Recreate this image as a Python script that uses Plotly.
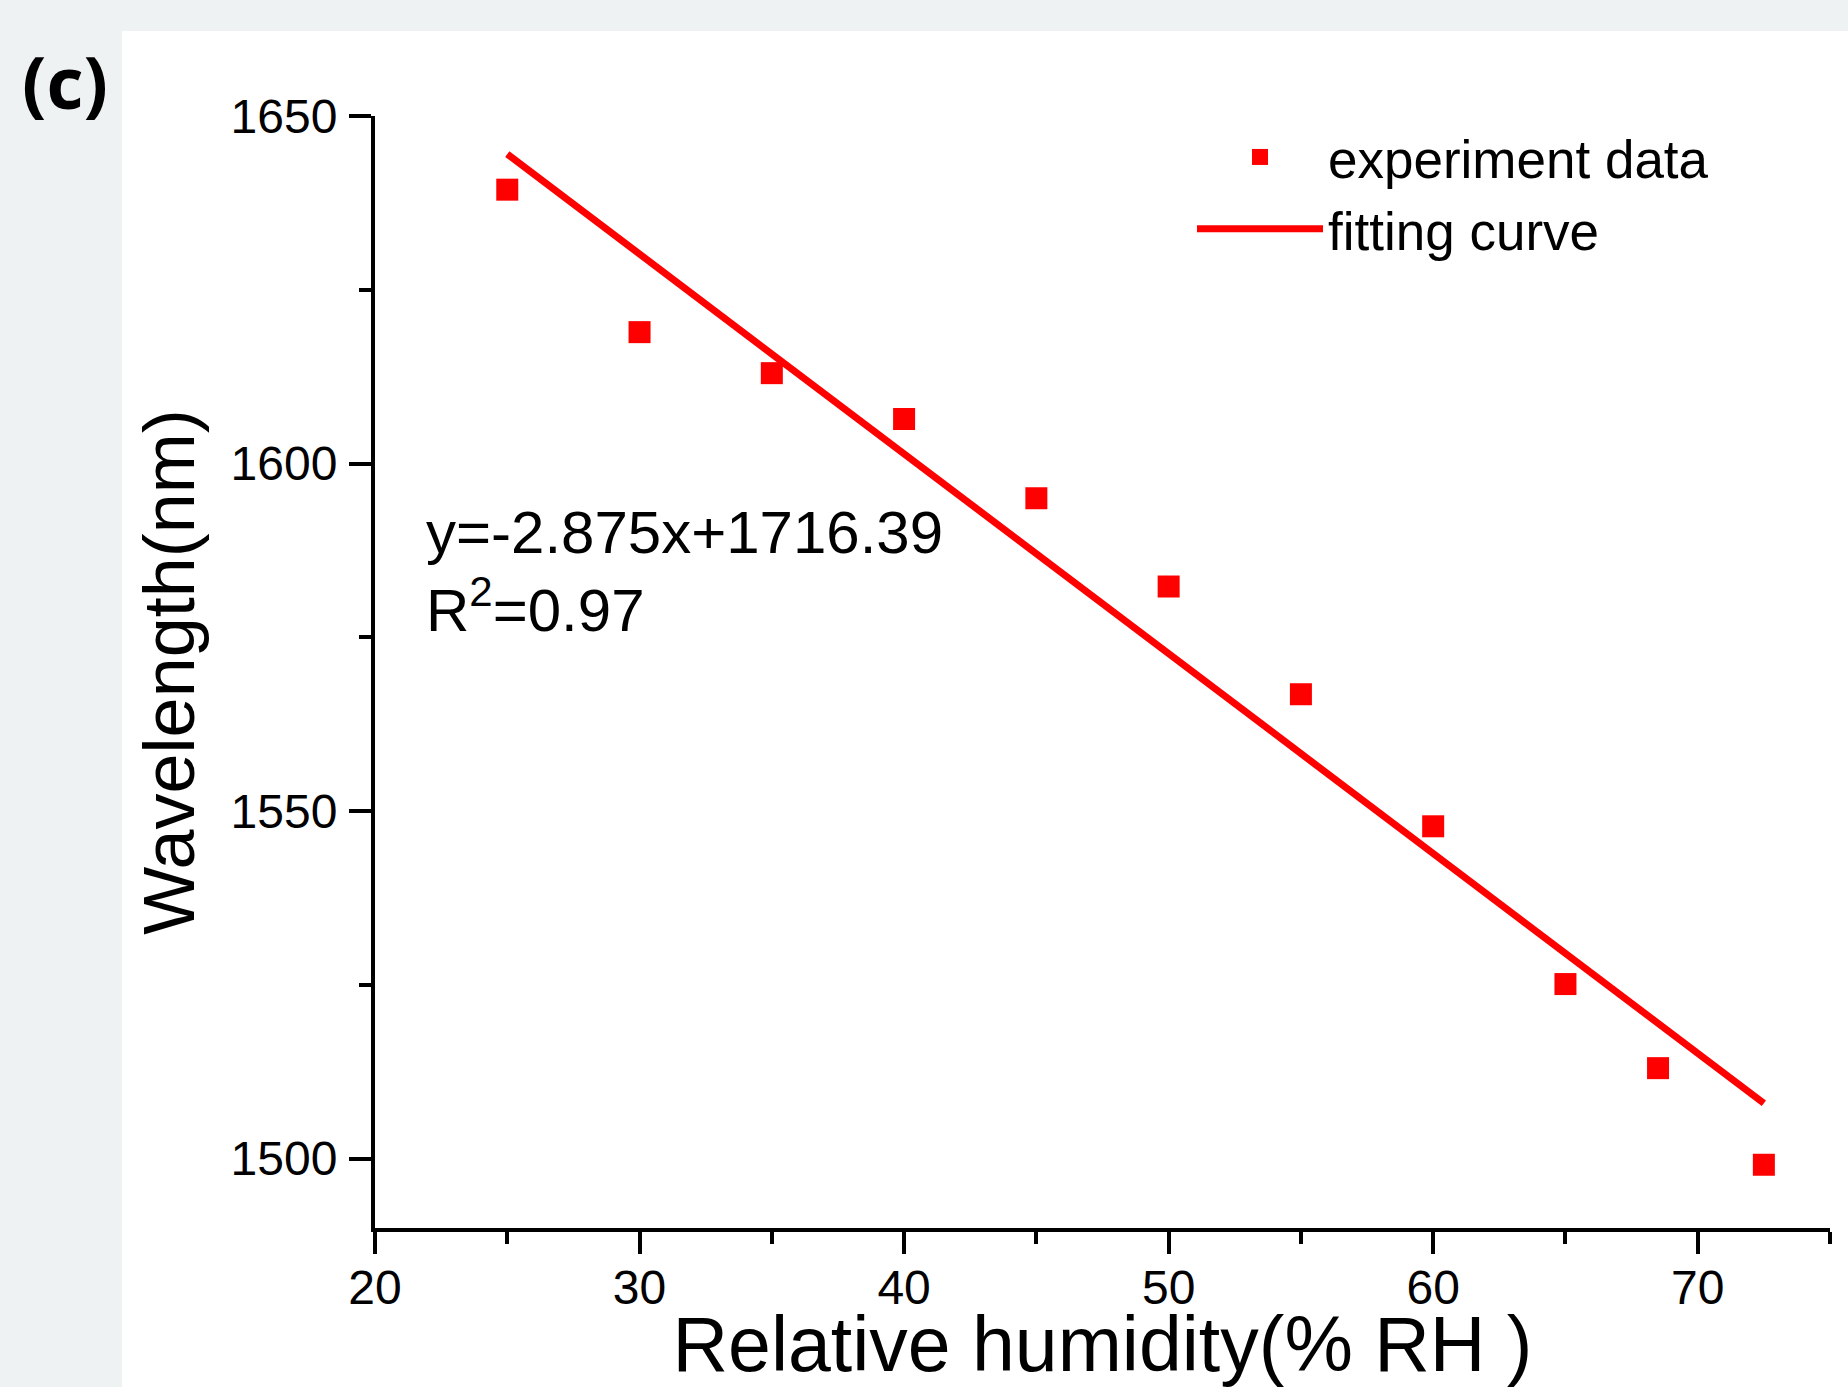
import plotly.graph_objects as go

# ---- data ----
humidity = [25, 30, 35, 40, 45, 50, 55, 60, 65, 68.5, 72.5]
wavelength = [1639.4, 1618.9, 1613.0, 1606.4, 1595.0, 1582.3, 1566.8, 1547.8, 1525.1, 1513.0, 1499.1]
fit_slope = -2.875
fit_intercept = 1716.39
fit_r2 = 0.97
fit_x = [humidity[0], humidity[-1]]
fit_y = [fit_slope * v + fit_intercept for v in fit_x]

x_ticks = [20, 30, 40, 50, 60, 70]
y_ticks = [1500, 1550, 1600, 1650]

x_title = "Relative humidity(% RH )"
y_title = "Wavelength(nm)"

# ---- geometry ----
W, H = 1848, 1387
L, R, T, B = 375, 18, 116, 159
pw, ph = W - L - R, H - T - B

def px_x(p):
    return (p - L) / pw

def px_y(p):
    return (H - B - p) / ph

RED = "#ff0000"
FONT = "Liberation Sans, Arial, sans-serif"

fig = go.Figure()
fig.add_trace(go.Scatter(
    x=humidity, y=wavelength, mode="markers", name="experiment data",
    marker=dict(symbol="square", size=22, color=RED, line=dict(width=0)),
))
fig.add_trace(go.Scatter(
    x=fit_x, y=fit_y, mode="lines", name="fitting curve",
    line=dict(color=RED, width=7),
))

axis_common = dict(
    showline=True, linecolor="black", linewidth=4, mirror=False,
    showgrid=False, zeroline=False, ticks="outside", ticklen=22, tickwidth=4,
    tickcolor="black", tickfont=dict(family=FONT, size=48, color="black"),
)

fig.update_xaxes(
    range=[20, 75], tickvals=x_ticks,
    minor=dict(dtick=5, tick0=20, ticks="outside", ticklen=12, tickwidth=3.5, tickcolor="black", showgrid=False),
    title=dict(text=x_title, font=dict(family=FONT, size=77, color="black"), standoff=36),
    ticklabelstandoff=-8,
    **axis_common,
)
fig.update_yaxes(
    range=[1490, 1650], tickvals=y_ticks,
    minor=dict(dtick=25, tick0=1500, ticks="outside", ticklen=12, tickwidth=3.5, tickcolor="black", showgrid=False),
    title=dict(text=y_title, font=dict(family=FONT, size=72, color="black"), standoff=13),
    ticklabelstandoff=2,
    **axis_common,
)

fig.add_annotation(
    x=21.85, y=1584.5, xref="x", yref="y", xanchor="left", yanchor="middle",
    showarrow=False, align="left",
    text=f"y={fit_slope}x+{fit_intercept}<br>R<sup>2</sup>={fit_r2}",
    font=dict(family=FONT, size=60, color="black"),
)

fig.add_annotation(
    x=px_x(20), y=px_y(30), xref="paper", yref="paper", xanchor="left", yanchor="top",
    showarrow=False, text="<b>(c)</b>",
    font=dict(family="Open Sans, sans-serif", size=72, color="black"),
)

# white panel on light grey page
fig.add_shape(
    type="rect", xref="paper", yref="paper", layer="below",
    x0=px_x(122), x1=px_x(W + 20), y0=px_y(H + 20), y1=px_y(31),
    fillcolor="white", line=dict(width=0),
)

fig.update_layout(
    width=W, height=H,
    margin=dict(l=L, r=R, t=T, b=B, autoexpand=False),
    paper_bgcolor="#eef2f3", plot_bgcolor="rgba(0,0,0,0)",
    showlegend=True,
    legend=dict(
        x=px_x(1192), y=px_y(116), xanchor="left", yanchor="top",
        bgcolor="rgba(0,0,0,0)", borderwidth=0, itemwidth=126,
        font=dict(family=FONT, size=53, color="black"),
        tracegroupgap=0,
    ),
)

fig.write_html("out.html")
